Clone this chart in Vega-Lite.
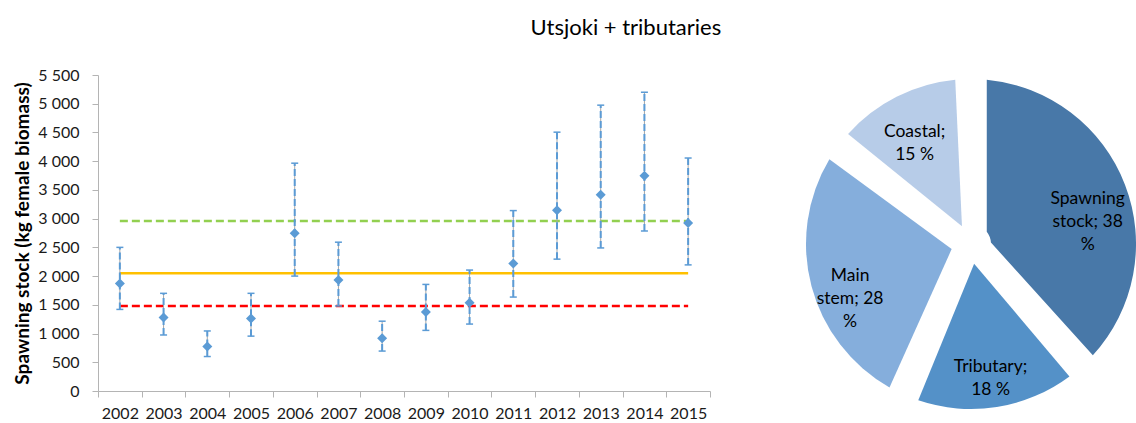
{
  "$schema": "https://vega.github.io/schema/vega-lite/v6.json",
  "padding": {"left": 13, "top": 17, "right": 0, "bottom": 0},
  "title": {"text": "Utsjoki + tributaries", "font": "Lato", "fontSize": 22, "fontWeight": "normal", "color": "#000000", "anchor": "middle", "dx": 51, "offset": 27},
  "config": {
    "view": {"stroke": null},
    "font": "Lato",
    "axisY": {"titleFontWeight": "bold", "titleFontSize": 19, "titleColor": "#000000", "titlePadding": 5, "grid": false, "domainColor": "#B4B4B4", "tickColor": "#B4B4B4", "tickSize": 6, "labelPadding": 13, "labelFontSize": 16, "labelColor": "#1A1A1A", "labelOverlap": false}
  },
  "resolve": {"scale": {"color": "independent"}},
  "datasets": {
    "stock": [
      {"year": "2002", "value": 1870, "low": 1420, "high": 2500},
      {"year": "2003", "value": 1280, "low": 975, "high": 1700},
      {"year": "2004", "value": 775, "low": 600, "high": 1045},
      {"year": "2005", "value": 1260, "low": 955, "high": 1700},
      {"year": "2006", "value": 2745, "low": 2000, "high": 3965},
      {"year": "2007", "value": 1930, "low": 1480, "high": 2590},
      {"year": "2008", "value": 920, "low": 695, "high": 1215},
      {"year": "2009", "value": 1375, "low": 1055, "high": 1855},
      {"year": "2010", "value": 1535, "low": 1165, "high": 2105},
      {"year": "2011", "value": 2220, "low": 1635, "high": 3140},
      {"year": "2012", "value": 3145, "low": 2295, "high": 4505},
      {"year": "2013", "value": 3415, "low": 2490, "high": 4975},
      {"year": "2014", "value": 3745, "low": 2785, "high": 5200},
      {"year": "2015", "value": 2925, "low": 2195, "high": 4055}
    ],
    "refs": [
      {"year": "2002", "level": 2960, "ref": "upper"},
      {"year": "2015", "level": 2960, "ref": "upper"},
      {"year": "2002", "level": 2050, "ref": "mid"},
      {"year": "2015", "level": 2050, "ref": "mid"},
      {"year": "2002", "level": 1480, "ref": "lower"},
      {"year": "2015", "level": 1480, "ref": "lower"}
    ],
    "pie": [
      {"part": "Spawning stock", "share": 38.3, "ord": 1, "label": ["Spawning", "stock; 38", "%"]},
      {"part": "Tributary", "share": 18.4, "ord": 2, "label": ["Tributary;", "18 %"]},
      {"part": "Main stem", "share": 28.4, "ord": 3, "label": ["Main", "stem; 28", "%"]},
      {"part": "Coastal", "share": 14.9, "ord": 4, "label": ["Coastal;", "15 %"]}
    ]
  },
  "spacing": 95,
  "hconcat": [
    {
      "width": 612,
      "height": 316,
      "encoding": {
        "x": {
          "field": "year", "type": "ordinal",
          "scale": {"type": "band", "paddingInner": 0, "paddingOuter": 0},
          "axis": {"title": null, "labelAngle": 0, "tickBand": "extent", "domainColor": "#B4B4B4", "tickColor": "#B4B4B4", "tickSize": 6, "labelFontSize": 16, "labelColor": "#1A1A1A", "labelPadding": 8, "grid": false}
        }
      },
      "layer": [
        {
          "data": {"name": "refs"},
          "mark": {"type": "line", "strokeWidth": 2.5},
          "encoding": {
            "y": {"field": "level", "type": "quantitative", "scale": {"domain": [0, 5500], "nice": false},
              "axis": {"title": "Spawning stock (kg female biomass)", "values": [0, 500, 1000, 1500, 2000, 2500, 3000, 3500, 4000, 4500, 5000, 5500], "labelExpr": "replace(format(datum.value, ','), ',', ' ')"}},
            "color": {"field": "ref", "type": "nominal", "scale": {"domain": ["upper", "mid", "lower"], "range": ["#92D050", "#FFC000", "#FF0000"]}, "legend": null},
            "strokeDash": {"field": "ref", "type": "nominal", "scale": {"domain": ["upper", "mid", "lower"], "range": [[8, 4], [1, 0], [8, 4]]}, "legend": null}
          }
        },
        {
          "data": {"name": "stock"},
          "mark": {"type": "rule", "color": "#A6A6A6", "strokeWidth": 1},
          "encoding": {"y": {"field": "low", "type": "quantitative", "axis": {"title": "Spawning stock (kg female biomass)", "values": [0, 500, 1000, 1500, 2000, 2500, 3000, 3500, 4000, 4500, 5000, 5500], "labelExpr": "replace(format(datum.value, ','), ',', ' ')"}}, "y2": {"field": "high"}}
        },
        {
          "data": {"name": "stock"},
          "mark": {"type": "rule", "color": "#5B9BD5", "strokeWidth": 2, "strokeDash": [7, 3]},
          "encoding": {"y": {"field": "low", "type": "quantitative", "axis": {"title": "Spawning stock (kg female biomass)", "values": [0, 500, 1000, 1500, 2000, 2500, 3000, 3500, 4000, 4500, 5000, 5500], "labelExpr": "replace(format(datum.value, ','), ',', ' ')"}}, "y2": {"field": "high"}}
        },
        {
          "data": {"name": "stock"},
          "mark": {"type": "tick", "orient": "horizontal", "size": 7, "thickness": 1.5, "color": "#5B9BD5", "opacity": 1},
          "encoding": {"y": {"field": "low", "type": "quantitative", "axis": {"title": "Spawning stock (kg female biomass)", "values": [0, 500, 1000, 1500, 2000, 2500, 3000, 3500, 4000, 4500, 5000, 5500], "labelExpr": "replace(format(datum.value, ','), ',', ' ')"}}}
        },
        {
          "data": {"name": "stock"},
          "mark": {"type": "tick", "orient": "horizontal", "size": 7, "thickness": 1.5, "color": "#5B9BD5", "opacity": 1},
          "encoding": {"y": {"field": "high", "type": "quantitative", "axis": {"title": "Spawning stock (kg female biomass)", "values": [0, 500, 1000, 1500, 2000, 2500, 3000, 3500, 4000, 4500, 5000, 5500], "labelExpr": "replace(format(datum.value, ','), ',', ' ')"}}}
        },
        {
          "data": {"name": "stock"},
          "mark": {"type": "point", "shape": "diamond", "filled": true, "size": 100, "color": "#5B9BD5", "opacity": 1},
          "encoding": {"y": {"field": "value", "type": "quantitative", "axis": {"title": "Spawning stock (kg female biomass)", "values": [0, 500, 1000, 1500, 2000, 2500, 3000, 3500, 4000, 4500, 5000, 5500], "labelExpr": "replace(format(datum.value, ','), ',', ' ')"}}}
        }
      ]
    },
    {
      "width": 326,
      "height": 338,
      "data": {"name": "pie"},
      "encoding": {
        "theta": {"field": "share", "type": "quantitative", "stack": true},
        "order": {"field": "ord", "type": "quantitative"}
      },
      "layer": [
        {
          "mark": {"type": "arc", "outerRadius": 165, "innerRadius": 20, "padAngle": 0.19},
          "encoding": {
            "color": {"field": "part", "type": "nominal", "scale": {"domain": ["Spawning stock", "Tributary", "Main stem", "Coastal"], "range": ["#4878A8", "#5491C8", "#85AEDC", "#B7CCE8"]}, "legend": null}
          }
        },
        {
          "mark": {"type": "text", "radius": 125, "fontSize": 17.5, "lineHeight": 23, "color": "#000000", "font": "Lato"},
          "encoding": {"text": {"field": "label"}}
        }
      ]
    }
  ]
}
